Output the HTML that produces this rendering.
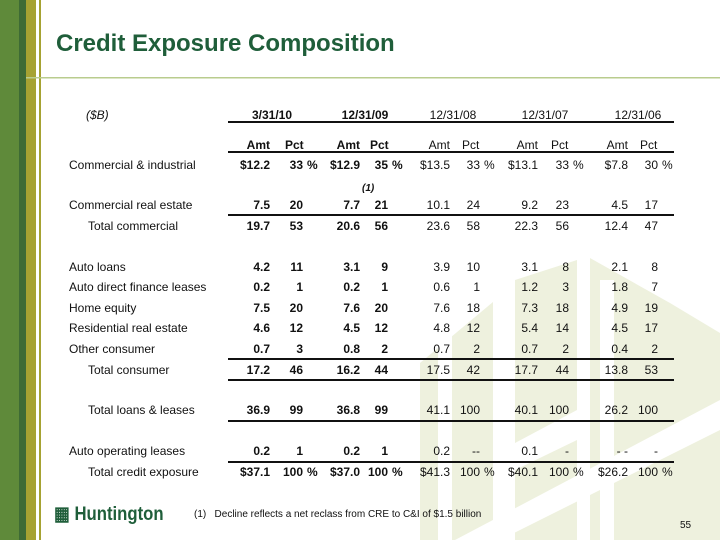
<!DOCTYPE html>
<html><head><style>
body{margin:0}
#p{position:relative;width:720px;height:540px;background:#fff;overflow:hidden;font-family:"Liberation Sans",sans-serif;font-size:12px;color:#111}
.s{position:absolute}
.t{position:absolute;white-space:nowrap;line-height:14px}
.b{font-weight:bold}
.ln{position:absolute;left:228px;width:446px;height:1.5px;background:#111}
</style></head><body><div id="p">
<svg class="s" style="left:0;top:0" width="720" height="540">
<g fill="#eef1de">
<polygon points="420,363 493,302 493,540 420,540"/>
<polygon points="515,280 577,260 577,540 515,540"/>
<polygon points="590,258 670,303 720,333 720,540 590,540"/>
</g>
<g fill="#fff">
<rect x="438" y="330" width="14" height="210"/>
<rect x="600" y="280" width="14" height="260"/>
<polygon points="455,540 720,400 720,430 500,540"/>
<polygon points="515,443 577,410 577,440 515,470"/>
</g>
<rect x="0" y="0" width="19" height="540" fill="#5f8a3a"/>
<rect x="19" y="0" width="7" height="540" fill="#3e6b35"/>
<rect x="26" y="0" width="10" height="540" fill="#a6a232"/>
<rect x="39" y="0" width="2" height="540" fill="#a6a232"/>
<rect x="26" y="77" width="694" height="1.5" fill="#b9cc8e"/>
</svg>
<div class="t b" style="left:56px;top:30px;font-size:24px;line-height:28px;color:#1f5e3a">Credit Exposure Composition</div>

<div class="t" style="left:86px;top:108px;font-style:italic">($B)</div>
<div class="t b" style="left:242px;top:108px;width:60px;text-align:center">3/31/10</div>
<div class="t b" style="left:335px;top:108px;width:60px;text-align:center">12/31/09</div>
<div class="t" style="left:423px;top:108px;width:60px;text-align:center">12/31/08</div>
<div class="t" style="left:515px;top:108px;width:60px;text-align:center">12/31/07</div>
<div class="t" style="left:608px;top:108px;width:60px;text-align:center">12/31/06</div>
<div class="ln" style="top:121px"></div>

<div id="rows"></div>
<div class="t" style="left:362px;top:182px;font-size:10px;font-style:italic;font-weight:bold">(1)</div>

<div class="ln" style="top:151px"></div>
<div class="ln" style="top:214px"></div>
<div class="ln" style="top:358px"></div>
<div class="ln" style="top:379px"></div>
<div class="ln" style="top:420px"></div>
<div class="ln" style="top:461px"></div>

<div class="t b" style="left:54px;top:505px;font-size:19px;line-height:20px;color:#1f5e3a;transform:scaleX(0.88);transform-origin:0 0">&#9638; Huntington</div>
<div class="t" style="left:194px;top:508px;font-size:10px">(1)&nbsp;&nbsp;&nbsp;Decline reflects a net reclass from CRE to C&amp;I of $1.5 billion</div>
<div class="t" style="left:680px;top:519px;font-size:10px">55</div>

<script>
var amtR=[270,360,450,538,628],pctR=[303,388,480,569,658];
var rows=[
[138,"",0,["Amt","Pct","Amt","Pct","Amt","Pct","Amt","Pct","Amt","Pct"],0],
[158,"Commercial &amp; industrial",0,["$12.2","33","$12.9","35","$13.5","33","$13.1","33","$7.8","30"],1],
[198,"Commercial real estate",0,["7.5","20","7.7","21","10.1","24","9.2","23","4.5","17"],0],
[219,"Total commercial",1,["19.7","53","20.6","56","23.6","58","22.3","56","12.4","47"],0],
[260,"Auto loans",0,["4.2","11","3.1","9","3.9","10","3.1","8","2.1","8"],0],
[280,"Auto direct finance leases",0,["0.2","1","0.2","1","0.6","1","1.2","3","1.8","7"],0],
[301,"Home equity",0,["7.5","20","7.6","20","7.6","18","7.3","18","4.9","19"],0],
[321,"Residential real estate",0,["4.6","12","4.5","12","4.8","12","5.4","14","4.5","17"],0],
[342,"Other consumer",0,["0.7","3","0.8","2","0.7","2","0.7","2","0.4","2"],0],
[363,"Total consumer",1,["17.2","46","16.2","44","17.5","42","17.7","44","13.8","53"],0],
[403,"Total loans &amp; leases",1,["36.9","99","36.8","99","41.1","100","40.1","100","26.2","100"],0],
[444,"Auto operating leases",0,["0.2","1","0.2","1","0.2","--","0.1","-","- -","-"],0],
[465,"Total credit exposure",1,["$37.1","100","$37.0","100","$41.3","100","$40.1","100","$26.2","100"],1]
];
var h="";
rows.forEach(function(r){
 var y=r[0];
 if(r[1])h+='<div class="t" style="left:'+(r[2]?88:69)+'px;top:'+y+'px">'+r[1]+'</div>';
 for(var c=0;c<5;c++){
  var b=c<2?" b":"";
  h+='<div class="t'+b+'" style="right:'+(720-amtR[c])+'px;top:'+y+'px">'+r[3][2*c]+'</div>';
  if(y==138) h+='<div class="t'+b+'" style="left:'+(pctR[c]-18)+'px;top:'+y+'px">Pct</div>';
  else h+='<div class="t'+b+'" style="right:'+(720-pctR[c])+'px;top:'+y+'px">'+r[3][2*c+1]+'</div>';
  if(r[4]) h+='<div class="t'+b+'" style="left:'+(pctR[c]+4)+'px;top:'+y+'px">%</div>';
 }
});
document.getElementById("rows").innerHTML=h;
</script>
</div></body></html>
